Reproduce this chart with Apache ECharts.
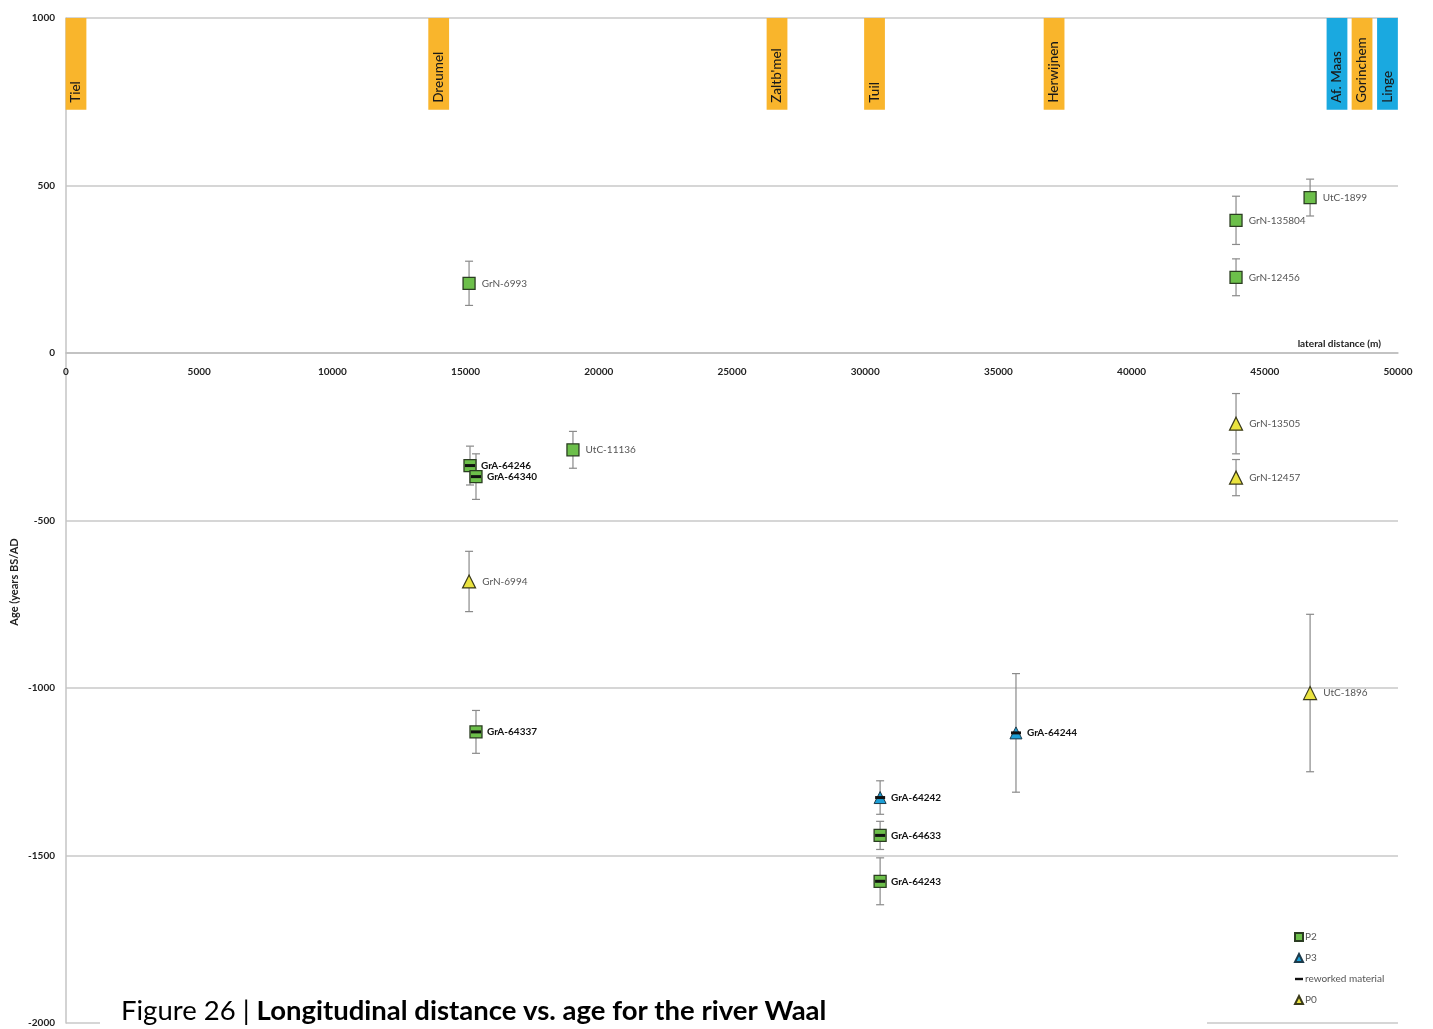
<!DOCTYPE html>
<html>
<head>
<meta charset="utf-8">
<script src="https://cdn.jsdelivr.net/npm/echarts@6/dist/echarts.min.js"></script>
<style>
html,body{margin:0;padding:0;background:#fff;}
#chart{width:1433px;height:1029px;}
</style>
</head>
<body>
<div id="chart"></div>
<script>
// ---- data ----
const townNames = ['Tiel', 'Dreumel', "Zaltb'mel", 'Tuil', 'Herwijnen', 'Af. Maas', 'Gorinchem', 'Linge'];
const townDist = [375, 13990, 26690, 30350, 37090, 47710, 48650, 49605];
const townKind = ['town', 'town', 'town', 'town', 'town', 'river', 'town', 'river'];
const townTop = 1000;
const townBottom = 726;
const townWidth = 780;

const p2Names = ['GrN-6993', 'UtC-1899', 'GrN-135804', 'GrN-12456', 'UtC-11136', 'GrA-64246', 'GrA-64340', 'GrA-64337', 'GrA-64633', 'GrA-64243'];
const p2Dist = [15130, 46700, 43920, 43920, 19030, 15165, 15390, 15390, 30560, 30560];
const p2Age = [208, 464, 396, 226, -289, -336, -369, -1131, -1440, -1577];
const p2Err = [66, 55, 72, 55, 55, 58, 68, 64, 42, 70];

const p3Names = ['GrA-64242', 'GrA-64244'];
const p3Dist = [30560, 35660];
const p3Age = [-1327, -1134];
const p3Err = [50, 177];

const p0Names = ['GrN-13505', 'GrN-12457', 'GrN-6994', 'UtC-1896'];
const p0Dist = [43920, 43920, 15130, 46700];
const p0Age = [-211, -372, -682, -1015];
const p0Err = [90, 54, 90, 235];

const reworkedNames = ['GrA-64246', 'GrA-64340', 'GrA-64337', 'GrA-64633', 'GrA-64243', 'GrA-64242', 'GrA-64244'];

const xTicks = [0, 5000, 10000, 15000, 20000, 25000, 30000, 35000, 40000, 45000, 50000];
const yTicks = [-2000, -1500, -1000, -500, 0, 500, 1000];

// ---- build ----
const FONT = 'Lato';
const colTown = '#F9B52C', colRiver = '#1AA9E0';
const colP2 = '#6CBF4A', colP3 = '#1D9FD6', colP0 = '#EAE33F';

function pts(names, dist, age) {
  return names.map((n, i) => ({
    name: n, value: [dist[i], age[i]],
    label: { show: !reworkedNames.includes(n) }
  }));
}
const allNames = p2Names.concat(p3Names, p0Names);
const allDist = p2Dist.concat(p3Dist, p0Dist);
const allAge = p2Age.concat(p3Age, p0Age);
const allErr = p2Err.concat(p3Err, p0Err);
const errData = allNames.map((n, i) => [allDist[i], allAge[i] - allErr[i], allAge[i] + allErr[i]]);

const reworkedData = reworkedNames.map(n => {
  const i = allNames.indexOf(n);
  return { name: n, value: [allDist[i], allAge[i]] };
});

const townData = townNames.map((n, i) => ({ name: n, value: [townDist[i], townKind[i]] }));

const chart = echarts.init(document.getElementById('chart'), null, { renderer: 'canvas' });

const labelNormal = { show: true, position: 'right', distance: 6, formatter: '{b}', fontFamily: FONT, fontSize: 10, color: '#555' };

// grid geometry
const gridTop = 18, gridBottom = 6, H = 1029;
const plotH = H - gridTop - gridBottom;
const yMin = -2000, yMax = 1000;
const zeroOffset = -plotH * (0 - yMin) / (yMax - yMin); // move x axis up to y = 0

chart.setOption({
  animation: false,
  backgroundColor: '#fff',
  textStyle: { fontFamily: FONT },
  grid: { left: 66, right: 35, top: gridTop, bottom: gridBottom, containLabel: false, outerBoundsMode: 'none' },
  xAxis: {
    type: 'value', min: 0, max: 50000, interval: 5000,
    offset: zeroOffset,
    axisLine: { onZero: false, lineStyle: { color: '#bdbdbd', width: 1.5 } },
    axisTick: { show: false },
    splitLine: { show: false },
    axisLabel: { show: true, margin: 14, hideOverlap: false, fontFamily: FONT, fontSize: 10, fontWeight: 'bold', color: '#222',
      formatter: v => xTicks.includes(v) ? String(v) : '' },
    name: 'lateral distance (m)', nameLocation: 'end', nameGap: -17,
    nameTextStyle: { align: 'right', verticalAlign: 'bottom', padding: [0, 0, 4, 0], fontFamily: FONT, fontSize: 10, fontWeight: 'bold', color: '#222' }
  },
  yAxis: {
    type: 'value', min: yMin, max: yMax, interval: 500,
    axisLine: { show: true, onZero: false, lineStyle: { color: '#c4c4c4', width: 1.5 } },
    axisTick: { show: false },
    splitLine: { show: true, lineStyle: { color: '#c8c8c8', width: 1.5 } },
    axisLabel: { margin: 11, fontFamily: FONT, fontSize: 10, fontWeight: 'bold', color: '#222',
      formatter: v => yTicks.includes(v) ? String(v) : '' }
  },
  legend: {
    orient: 'vertical', left: 1289, top: 927,
    itemWidth: 8, itemHeight: 8, itemGap: 11,
    textStyle: { fontFamily: FONT, fontSize: 10, color: '#555', padding: [0, 0, 0, -3] },
    data: [
      { name: 'P2', icon: 'rect' },
      { name: 'P3', icon: 'triangle' },
      { name: 'reworked material', icon: 'path://M0,0h10v3h-10z' },
      { name: 'P0', icon: 'triangle' }
    ]
  },
  graphic: [
    { type: 'rect', left: 100, top: 1000, shape: { width: 1107, height: 29 }, style: { fill: '#fff' }, z: 100 },
    { type: 'text', left: 121, top: 997, z: 101,
      style: { text: '{r|Figure 26 | }{b|Longitudinal distance vs. age for the river Waal}',
        rich: { r: { fontFamily: FONT, fontSize: 27.5, color: '#222' }, b: { fontFamily: FONT, fontSize: 27.5, fontWeight: 'bold', color: '#222' } } } },
    { type: 'text', x: 14, y: 582, rotation: Math.PI / 2, z: 101,
      style: { text: 'Age (years BS/AD', fontFamily: FONT, fontSize: 11, fontWeight: 'bold', fill: '#222', align: 'center', verticalAlign: 'middle' } }
  ],
  series: [
    {
      type: 'custom', name: 'towns', z: 1, silent: true,
      data: townData,
      renderItem: (params, api) => {
        const x = api.value(0);
        const p1 = api.coord([x - townWidth / 2, townTop]);
        const p2 = api.coord([x + townWidth / 2, townBottom]);
        const name = townNames[params.dataIndex];
        return {
          type: 'group', children: [
            { type: 'rect', shape: { x: p1[0], y: p1[1], width: p2[0] - p1[0], height: p2[1] - p1[1] },
              style: { fill: townKind[params.dataIndex] === 'river' ? colRiver : colTown } },
            { type: 'text', x: (p1[0] + p2[0]) / 2, y: p2[1] - 7, rotation: Math.PI / 2,
              style: { text: name, fontFamily: FONT, fontSize: 13.5, fontWeight: 500, fill: '#1a1a1a', align: 'left', verticalAlign: 'middle' } }
          ]
        };
      },
      encode: { x: 0 }
    },
    {
      type: 'custom', name: 'errors', z: 2, silent: true,
      data: errData,
      renderItem: (params, api) => {
        const top = api.coord([api.value(0), api.value(2)]);
        const bot = api.coord([api.value(0), api.value(1)]);
        const c = 4;
        const st = { stroke: '#8a8a8a', lineWidth: 1.2 };
        return {
          type: 'group', children: [
            { type: 'line', shape: { x1: top[0], y1: top[1], x2: bot[0], y2: bot[1] }, style: st },
            { type: 'line', shape: { x1: top[0] - c, y1: top[1], x2: top[0] + c, y2: top[1] }, style: st },
            { type: 'line', shape: { x1: bot[0] - c, y1: bot[1], x2: bot[0] + c, y2: bot[1] }, style: st }
          ]
        };
      },
      encode: { x: 0, y: [1, 2] }
    },
    {
      type: 'scatter', name: 'P2', z: 3, symbol: 'rect', symbolSize: 12,
      itemStyle: { color: colP2, borderColor: '#2b3d22', borderWidth: 1.3, opacity: 1 },
      label: labelNormal,
      data: pts(p2Names, p2Dist, p2Age)
    },
    {
      type: 'scatter', name: 'P3', z: 3, symbol: 'triangle', symbolSize: 12,
      itemStyle: { color: colP3, borderColor: '#1d3a4a', borderWidth: 1, opacity: 1 },
      label: labelNormal,
      data: pts(p3Names, p3Dist, p3Age)
    },
    {
      type: 'scatter', name: 'reworked material', z: 4, symbol: 'rect', symbolSize: [10, 3],
      itemStyle: { color: '#111', opacity: 1 },
      label: { show: true, position: 'right', distance: 6, formatter: '{b}', fontFamily: FONT, fontSize: 10, fontWeight: 'bold', color: '#111' },
      data: reworkedData
    },
    {
      type: 'scatter', name: 'P0', z: 3, symbol: 'triangle', symbolSize: 13,
      itemStyle: { color: colP0, borderColor: '#3a3a1a', borderWidth: 1.2, opacity: 1 },
      label: labelNormal,
      data: pts(p0Names, p0Dist, p0Age)
    }
  ]
});
</script>
</body>
</html>
